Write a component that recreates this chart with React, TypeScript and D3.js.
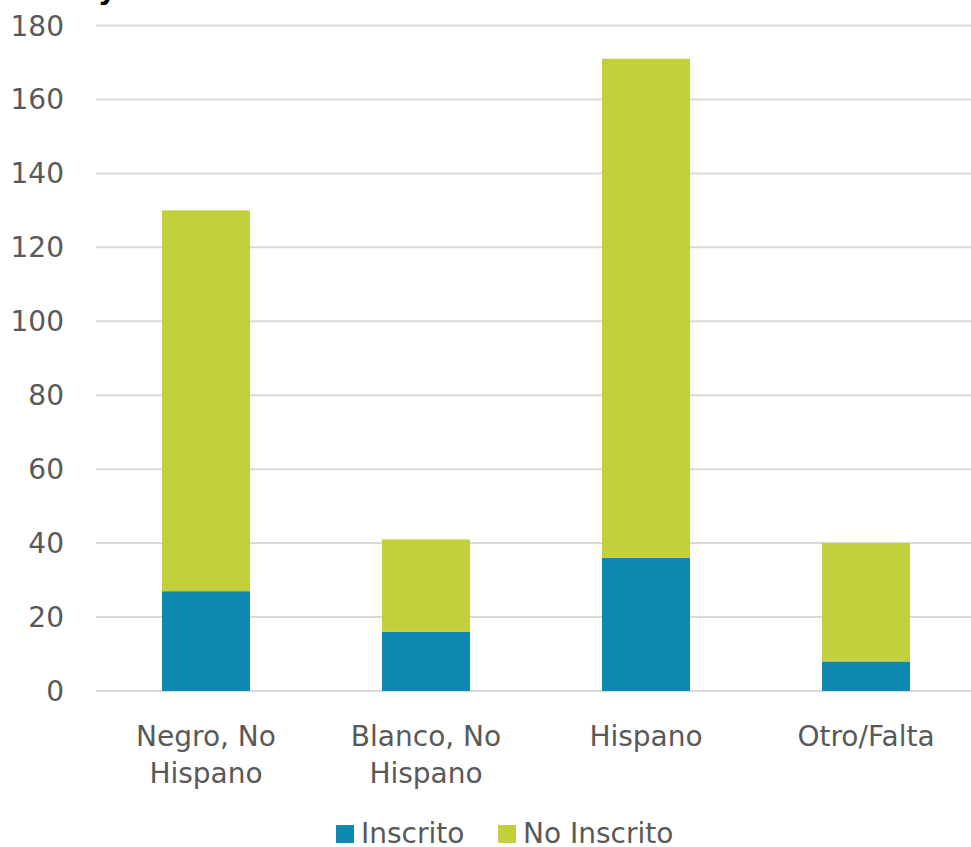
import React from "react";
import * as d3 from "d3";

const categories = [["Negro, No", "Hispano"], ["Blanco, No", "Hispano"], ["Hispano"], ["Otro/Falta"]];
const inscrito = [27, 16, 36, 8];
const noInscrito = [103, 25, 135, 32];
const yTicks = [0, 20, 40, 60, 80, 100, 120, 140, 160, 180];
const seriesNames = ["Inscrito", "No Inscrito"];
const seriesColors = ["#0D89B2", "#C2D03B"];

const W = 971;
const H = 847;
const FONT = "Tahoma, 'DejaVu Sans', Verdana, sans-serif";
const TEXT = "#595959";

export default function App() {
  const keys = categories.map((c) => c.join(" "));
  const x = d3.scaleBand<string>().domain(keys).range([96, 976]).paddingInner(0.6).paddingOuter(0.3);
  const y = d3.scaleLinear().domain([0, 180]).range([691, 25.5]);

  const rows = keys.map((k, i) => ({ key: k, Inscrito: inscrito[i], "No Inscrito": noInscrito[i] }));
  const stacked = d3.stack<any>().keys(seriesNames)(rows);

  return (
    <svg width={W} height={H} style={{ position: "absolute", left: 0, top: 0, background: "#fff" }}>
      <text x={98} y={-1} fontFamily={FONT} fontWeight="bold" fontSize={28} fill="#000">y</text>
      {yTicks.map((t) => (
        <g key={t}>
          <line x1={96} x2={W} y1={y(t)} y2={y(t)} stroke="#D9D9D9" strokeWidth={2} />
          <text x={64} y={y(t) + 10} textAnchor="end" fontFamily={FONT} fontSize={28} fill={TEXT}>{t}</text>
        </g>
      ))}
      {stacked.map((s, si) => (
        <g key={s.key} fill={seriesColors[si]}>
          {s.map((d, i) => (
            <rect key={i} x={x(keys[i])} width={x.bandwidth()} y={y(d[1])} height={y(d[0]) - y(d[1])} />
          ))}
        </g>
      ))}
      {categories.map((lines, i) => (
        <text key={i} textAnchor="middle" fontFamily={FONT} fontSize={28} fill={TEXT}>
          {lines.map((l, j) => (
            <tspan key={j} x={(x(keys[i]) as number) + x.bandwidth() / 2} y={746 + j * 37}>{l}</tspan>
          ))}
        </text>
      ))}
      {seriesNames.map((n, i) => {
        const lx = [336, 498][i];
        return (
          <g key={n}>
            <rect x={lx} y={825} width={18} height={18} fill={seriesColors[i]} />
            <text x={lx + 25} y={843} fontFamily={FONT} fontSize={28} fill={TEXT}>{n}</text>
          </g>
        );
      })}
    </svg>
  );
}
